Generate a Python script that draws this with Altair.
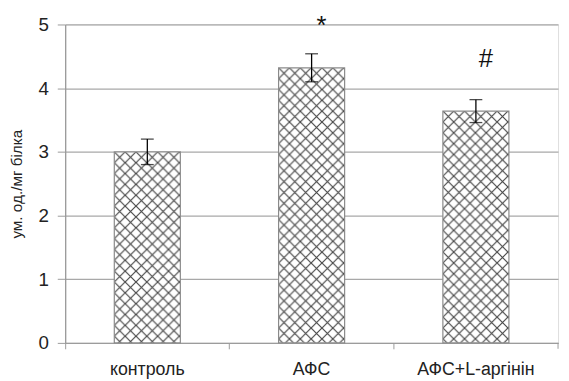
import base64
import altair as alt
import pandas as pd

categories = ["контроль", "АФС", "АФС+L-аргінін"]
values = [3.0, 4.32, 3.64]
errors = [0.20, 0.22, 0.18]
marks = ["", "*", "#"]
mark_y = [0, 4.97, 4.45]

df = pd.DataFrame({"cat": categories, "val": values, "err": errors,
                   "sig": marks, "sig_y": mark_y})
df["lo"] = df["val"] - df["err"]
df["hi"] = df["val"] + df["err"]
df["zero"] = 0.0

svg = ('<svg xmlns="http://www.w3.org/2000/svg" width="100%" height="100%">'
       '<defs><pattern id="p" width="11" height="11" patternUnits="userSpaceOnUse">'
       '<path d="M-1,-1L12,12M12,-1L-1,12" stroke="#474747" stroke-width="1.2" fill="none"/>'
       '</pattern></defs><rect width="100%" height="100%" fill="url(#p)"/></svg>')
hatch_url = "data:image/svg+xml;base64," + base64.b64encode(svg.encode()).decode()
df["url"] = hatch_url

FONT = "Liberation Sans"
YTITLE = "ум. од./мг білка"

x_axis = alt.Axis(bandPosition=0, labelAngle=0,
                  labelFont=FONT, labelFontSize=18, labelColor="#222",
                  labelPadding=12, domainColor="#9a9a9a",
                  tickColor="#9a9a9a", tickSize=6, grid=False)
y_axis = alt.Axis(values=[0, 1, 2, 3, 4, 5], format="d", labelFont=FONT,
                  labelFontSize=19, labelColor="#222", labelPadding=9,
                  titleFont=FONT, titleFontSize=15.5, titleFontWeight="normal",
                  titleColor="#222", titlePadding=14,
                  gridColor="#a8a8a8", gridWidth=1.3,
                  domainColor="#9a9a9a", domainWidth=1.3,
                  tickColor="#9a9a9a", tickSize=8)
x_scale = alt.Scale(paddingInner=0, paddingOuter=0)
y_scale = alt.Scale(domain=[0, 5], nice=False)


def X():
    return alt.X("cat:N", sort=categories, title=None, scale=x_scale, axis=x_axis)


def Y(field):
    return alt.Y(field, scale=y_scale, title=YTITLE, axis=y_axis)


base = alt.Chart(df)

backing = base.mark_bar(size=67, fill="white").encode(x=X(), y=Y("val:Q"))

hatch = base.mark_image(aspect=False, width=67).encode(
    x=X(), y=Y("val:Q"), y2="zero:Q", url="url:N")

outline = base.mark_bar(size=67, fill="transparent", stroke="#8a8a8a",
                        strokeWidth=1.2).encode(x=X(), y=Y("val:Q"))

err = base.mark_errorbar(ticks=alt.TickConfig(size=13, color="black", thickness=1.3),
                         color="black", thickness=1.3).encode(
    x=X(), y=Y("lo:Q"), y2="hi:Q")

sig = base.mark_text(font=FONT, fontSize=26, color="#111", dx=10,
                     baseline="middle").encode(
    x=X(), y=Y("sig_y:Q"), text="sig:N")

endtick = alt.Chart(pd.DataFrame({"a": [0]})).mark_rule(
    color="#9a9a9a", strokeWidth=1).encode(
    x=alt.value(500), y=alt.value(323), y2=alt.value(329))

chart = alt.layer(backing, hatch, outline, err, sig, endtick).properties(
    width=500, height=323,
    padding={"left": 58, "top": 14, "right": 3, "bottom": 40},
    autosize=alt.AutoSizeParams(type="none"),
).configure_view(stroke=None).configure(background="white")

chart.save("out.html", embed_options={"renderer": "svg", "actions": False})
